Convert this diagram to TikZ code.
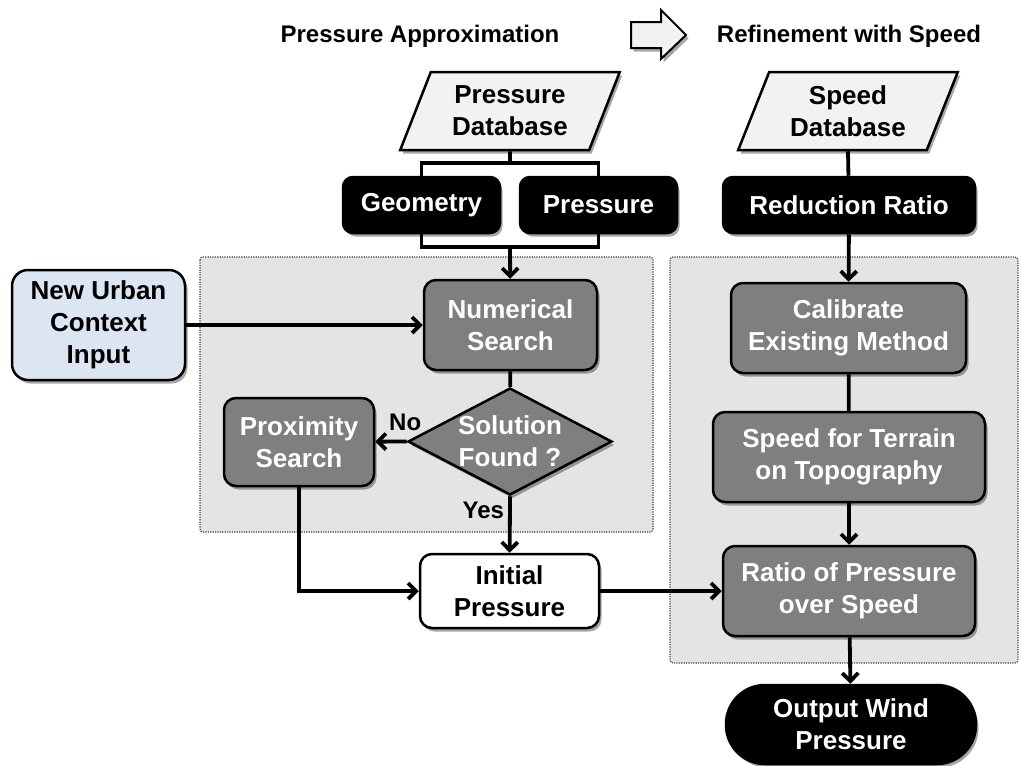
\documentclass[tikz,border=0pt]{standalone}
\usepackage{fontspec}
\setmainfont{Liberation Sans}
\usetikzlibrary{shapes.geometric,shadows,arrows.meta}
\definecolor{boxgray}{HTML}{7F7F7F}
\definecolor{dbfill}{HTML}{F2F2F2}
\definecolor{urbfill}{HTML}{DCE6F2}
\definecolor{panelfill}{HTML}{E4E4E4}
\begin{document}
\begin{tikzpicture}[x=1pt,y=-1pt,
  shad/.style={drop shadow={shadow xshift=2.5pt,shadow yshift=-3.5pt,opacity=0.35,fill=black}},
  base/.style={font=\fontsize{26}{32}\selectfont\bfseries, align=center, line width=2.5pt, draw=black, inner sep=0pt},
  darkbox/.style={base, shad, fill=boxgray, text=white, rounded corners=12pt},
  blackbox/.style={base, shad, fill=black, text=white, rounded corners=10pt},
  dbshape/.style={base, shad, trapezium, trapezium left angle=66, trapezium right angle=114, trapezium stretches=true, fill=dbfill, minimum width=220pt, minimum height=78pt},
  hdr/.style={font=\fontsize{24}{28}\selectfont\bfseries, inner sep=0pt},
  lab/.style={font=\fontsize{24}{28}\selectfont\bfseries, inner sep=0pt},
  panel/.style={draw=black!75, line width=1.2pt, dash pattern=on 1.2pt off 1.2pt, fill=panelfill, rounded corners=3pt},
  conn/.style={line width=3.8pt, draw=black},
  arr/.style={conn, -{Straight Barb[length=8pt,width=16pt]}}
]
\useasboundingbox (0,0) rectangle (1021,766);
% background panels
\path[panel] (200,257) rectangle (653,532);
\path[panel] (670,257) rectangle (1018,663);

% headers
\node[hdr] (hdrL) at (420,36) {Pressure Approximation};
\node[hdr] (hdrR) at (849,36) {Refinement with Speed};
\draw[line width=2pt, fill=dbfill, shad, line join=miter]
  (631,22) -- (661,22) -- (661,10) -- (686,35) -- (661,59) -- (661,48) -- (631,48) -- cycle;

% databases
\node[dbshape] (pdb) at (510,111) {Pressure\\Database};
\node[dbshape] (sdb) at (848,111) {Speed\\Database};

% black boxes
\node[blackbox, minimum width=157pt, minimum height=56pt] (geo) at (421.5,205) {Geometry};
\node[blackbox, minimum width=157pt, minimum height=56pt] (pre) at (598.5,205) {Pressure};
\node[blackbox, minimum width=252pt, minimum height=56pt] (red) at (849,205) {Reduction Ratio};

% left part
\node[base, shad, fill=urbfill, rounded corners=16pt, minimum width=173pt, minimum height=110pt] (urb) at (98.5,325) {New Urban\\Context\\Input};
\node[darkbox, minimum width=173pt, minimum height=90pt] (num) at (510.5,325) {Numerical\\Search};
\node[base, shad, diamond, fill=boxgray, minimum width=204pt, minimum height=107pt,
      label={[base, draw=none, text=white]center:{Solution\\Found ?}}] (dia) at (510,441.5) {};
\node[darkbox, minimum width=150pt, minimum height=88pt] (prox) at (299,442) {Proximity\\Search};
\node[base, shad, fill=white, rounded corners=12pt, minimum width=179pt, minimum height=74pt] (init) at (509.5,591) {Initial\\Pressure};

% right part
\node[darkbox, minimum width=235pt, minimum height=90pt] (cal) at (848.5,328) {Calibrate\\Existing Method};
\node[darkbox, minimum width=272pt, minimum height=90pt] (spd) at (849,457) {Speed for Terrain\\on Topography};
\node[darkbox, minimum width=252pt, minimum height=90pt] (rat) at (849,591) {Ratio of Pressure\\over Speed};
\node[blackbox, rounded corners=39pt, minimum width=250pt, minimum height=79pt] (out) at (851,724.5) {Output Wind\\Pressure};

% junction coordinates
\coordinate (jt) at (510,163);
\coordinate (jb) at (510,247);

% connectors
\draw[conn] (pdb.south) -- (jt);
\draw[conn] (geo) |- (jt) -| (pre);
\draw[conn] (geo) |- (jb) -| (pre);
\draw[arr] (jb) -- (num);
\draw[arr] (urb) -- (num);
\draw[conn] (num) -- (dia);
\draw[arr] (dia.west) -- (prox) node[lab, pos=0.05, above=9pt] (nolab) {No};
\draw[arr] (dia.south) -- (init) node[lab, pos=0.25, left=4pt] (yeslab) {Yes};
\draw[arr] (prox) |- (init);
\draw[arr] (init) -- (rat);
\draw[conn] (sdb.south) -- (red);
\draw[arr] (red) -- (cal);
\draw[conn] (cal) -- (spd);
\draw[arr] (spd) -- (rat);
\draw[arr] (rat) -- (out);
\end{tikzpicture}
\end{document}
